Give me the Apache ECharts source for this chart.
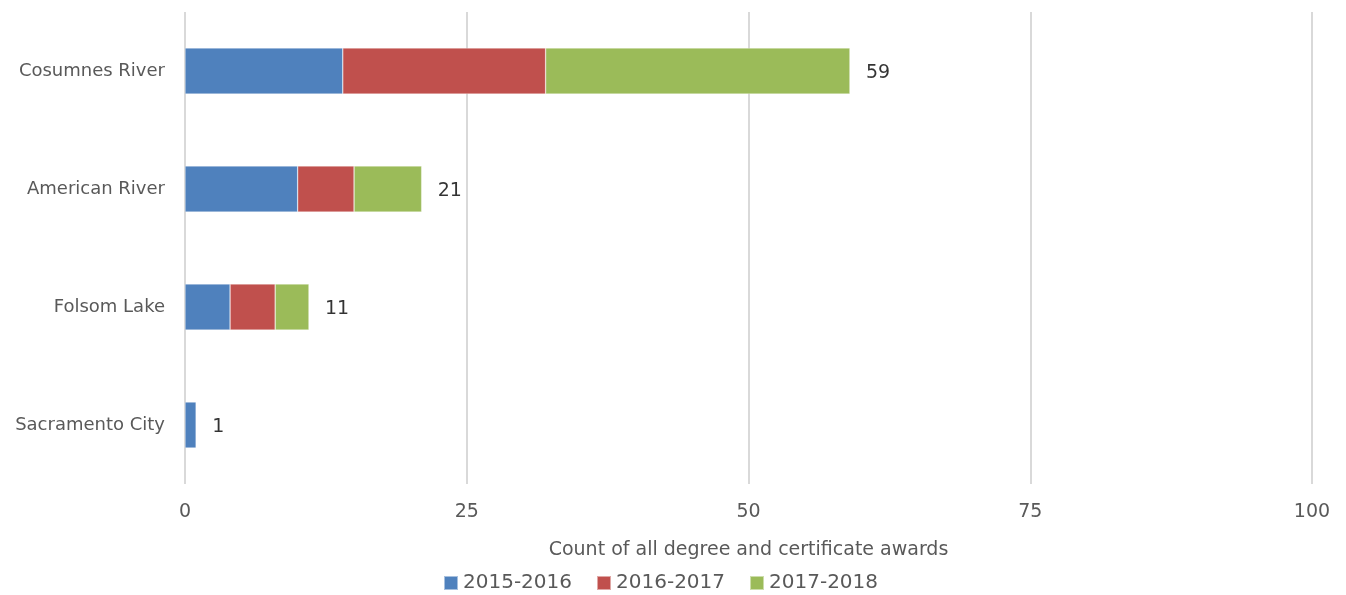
<!DOCTYPE html>
<html><head><meta charset="utf-8">
<script src="https://cdn.jsdelivr.net/npm/echarts@6/dist/echarts.min.js"></script>
<style>html,body{margin:0;padding:0;background:#fff}#c{width:1346px;height:595px}</style>
</head><body><div id="c"></div>
<script>
const categories = ['Sacramento City','Folsom Lake','American River','Cosumnes River'];
const seriesNames = ['2015-2016','2016-2017','2017-2018'];
const v2015 = [1, 4, 10, 14];
const v2016 = [0, 4, 5, 18];
const v2017 = [0, 3, 6, 27];
const totals = [1, 11, 21, 59];
const xTicks = [0, 25, 50, 75, 100];
const colors = ['#4f81bd','#c0504d','#9bbb59'];
const font = '"DejaVu Sans", sans-serif';
const chart = echarts.init(document.getElementById('c'));
const vals = [v2015, v2016, v2017];
const series = seriesNames.map((n,i)=>({
  name:n, type:'bar', stack:'t', data:vals[i], barWidth:'39%',
  itemStyle:{color:colors[i], borderColor:'rgba(255,255,255,0.5)', borderWidth:0.6}
}));
series.push({
  name:'total', type:'scatter', symbolSize:0, data:totals.map((t,i)=>[t,categories[i]]),
  label:{show:true, position:'right', distance:16, offset:[0,2], formatter:p=>p.value[0], color:'#000', fontSize:19, fontFamily:font},
  silent:true, z:5
});
chart.setOption({
  animation:false,
  textStyle:{fontFamily:font},
  grid:{left:185, right:34, top:12, bottom:111, containLabel:false},
  legend:{data:seriesNames, top:568, left:438, itemWidth:14, itemHeight:14, itemGap:24,
    icon:'rect', textStyle:{fontSize:20, color:'#595959', fontFamily:font}},
  xAxis:{type:'value', min:xTicks[0], max:xTicks[xTicks.length-1], interval:25,
    name:'Count of all degree and certificate awards', nameLocation:'middle', nameGap:57,
    nameTextStyle:{fontSize:19, color:'#595959', fontFamily:font},
    axisLine:{show:false}, axisTick:{show:false},
    axisLabel:{fontSize:19, color:'#595959', margin:19, fontFamily:font},
    splitLine:{lineStyle:{color:'#d9d9d9', width:2}}},
  yAxis:{type:'category', data:categories,
    axisLine:{show:false}, axisTick:{show:false},
    axisLabel:{fontSize:18, color:'#595959', margin:20, padding:[4,0,0,0], fontFamily:font}},
  series
});
</script></body></html>
